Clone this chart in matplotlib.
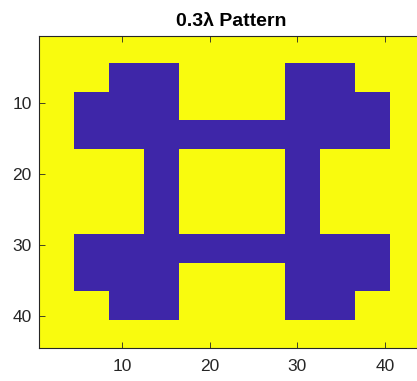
import numpy as np
import matplotlib
matplotlib.use("Agg")
import matplotlib.pyplot as plt
from matplotlib.colors import ListedColormap

# Grid size of the binary pattern
n_rows = 44
n_cols = 44

# Filled (value 0) rectangles: (row_start, row_end, col_start, col_end), 1-based inclusive
filled_blocks = [
    (5, 8, 9, 16),     # upper-left cap
    (5, 8, 29, 36),    # upper-right cap
    (9, 12, 5, 16),    # upper-left pad
    (9, 12, 29, 40),   # upper-right pad
    (13, 16, 5, 40),   # upper bridge
    (17, 28, 13, 16),  # left post
    (17, 28, 29, 32),  # right post
    (29, 32, 5, 40),   # lower bridge
    (33, 36, 5, 16),   # lower-left pad
    (33, 36, 29, 40),  # lower-right pad
    (37, 40, 9, 16),   # lower-left cap
    (37, 40, 29, 36),  # lower-right cap
]

# Background is 1 (yellow), metal is 0 (blue)
pattern = np.ones((n_rows, n_cols))
for r0, r1, c0, c1 in filled_blocks:
    pattern[r0 - 1:r1, c0 - 1:c1] = 0

tick_values = [10, 20, 30, 40]
title_text = "0.3\u03bb Pattern"

cmap = ListedColormap(["#3E26A8", "#F9FB0E"])

plt.rcParams["font.family"] = ["Liberation Sans", "DejaVu Sans"]

fig = plt.figure(figsize=(4.17, 3.81), dpi=100)
ax = fig.add_axes([38.7 / 417, 1 - 348.3 / 381, (424.5 - 38.7) / 417, (348.3 - 36) / 381])

ax.imshow(pattern, cmap=cmap, vmin=0, vmax=1, interpolation="nearest",
          extent=(0.5, n_cols + 0.5, n_rows + 0.5, 0.5), aspect="auto")

ax.set_xlim(0.5, n_cols + 0.5)
ax.set_ylim(n_rows + 0.5, 0.5)
ax.set_xticks(tick_values)
ax.set_yticks(tick_values)

axis_color = "#262626"
ax.tick_params(direction="in", length=4, width=0.6, colors=axis_color,
               labelsize=12.5, top=True, right=True)
ax.tick_params(axis="x", pad=8)
ax.tick_params(axis="y", pad=5)
for s in ax.spines.values():
    s.set_color(axis_color)
    s.set_linewidth(0.8)

ax.set_title(title_text, fontsize=14, fontweight="bold", color="black", pad=7)

fig.savefig("out.png", dpi=100)
